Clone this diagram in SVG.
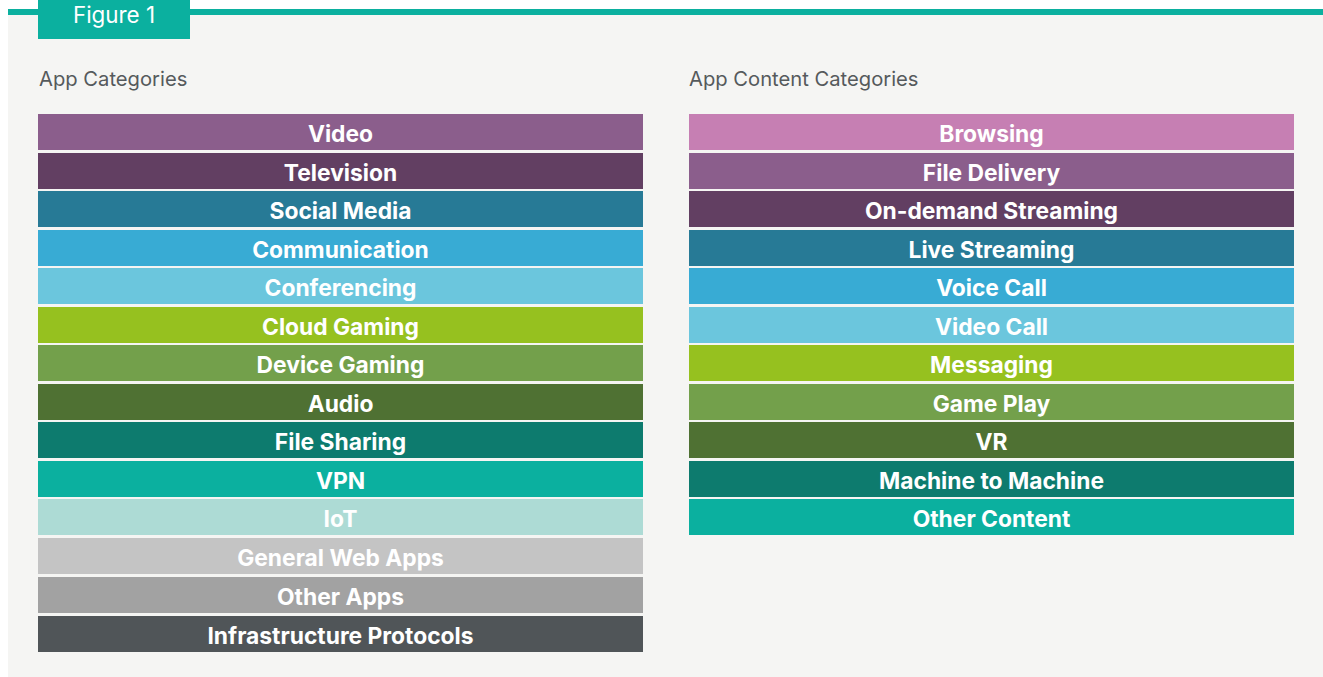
<svg xmlns="http://www.w3.org/2000/svg" width="1323" height="677" viewBox="0 0 1323 677">
<style>
.lbl{font-family:Inter,"Liberation Sans",sans-serif;font-weight:700;font-size:22.8px;fill:#ffffff;text-anchor:middle}
.hd{font-family:Inter,"Liberation Sans",sans-serif;font-size:20.2px;fill:#555a5c}
</style>
<rect x="0" y="0" width="1323" height="677" fill="#ffffff"/>
<rect x="8" y="15" width="1315" height="662" fill="#f5f5f3"/>
<rect x="8" y="9" width="1315" height="6" fill="#0bb09f"/>
<g id="tab">
<rect x="38" y="0" width="152" height="39" fill="#0bb09f"/>
<text x="114" y="23" font-family="Inter,'Liberation Sans',sans-serif" font-size="22.4" fill="#ffffff" text-anchor="middle">Figure 1</text>
</g>
<text class="hd" x="39" y="86">App Categories</text>
<text class="hd" x="689" y="86">App Content Categories</text>
<g id="left">
<g id="n-video"><rect x="38" y="114" width="605" height="36" fill="#8b5e8c"/><text class="lbl" x="340.5" y="141.5">Video</text></g>
<g id="n-television"><rect x="38" y="153" width="605" height="36" fill="#623f62"/><text class="lbl" x="340.5" y="180.5">Television</text></g>
<g id="n-social"><rect x="38" y="191" width="605" height="36" fill="#277a96"/><text class="lbl" x="340.5" y="218.5">Social Media</text></g>
<g id="n-communication"><rect x="38" y="230" width="605" height="36" fill="#38abd4"/><text class="lbl" x="340.5" y="257.5">Communication</text></g>
<g id="n-conferencing"><rect x="38" y="268" width="605" height="36" fill="#6bc6dd"/><text class="lbl" x="340.5" y="295.5">Conferencing</text></g>
<g id="n-cloudgaming"><rect x="38" y="307" width="605" height="36" fill="#96c11f"/><text class="lbl" x="340.5" y="334.5">Cloud Gaming</text></g>
<g id="n-devicegaming"><rect x="38" y="345" width="605" height="36" fill="#73a04b"/><text class="lbl" x="340.5" y="372.5">Device Gaming</text></g>
<g id="n-audio"><rect x="38" y="384" width="605" height="36" fill="#4f7133"/><text class="lbl" x="340.5" y="411.5">Audio</text></g>
<g id="n-filesharing"><rect x="38" y="422" width="605" height="36" fill="#0d7b6e"/><text class="lbl" x="340.5" y="449.5">File Sharing</text></g>
<g id="n-vpn"><rect x="38" y="461" width="605" height="36" fill="#0bb09f"/><text class="lbl" x="340.5" y="488.5">VPN</text></g>
<g id="n-iot"><rect x="38" y="499" width="605" height="36" fill="#addbd5"/><text class="lbl" x="340.5" y="526.5">IoT</text></g>
<g id="n-generalweb"><rect x="38" y="538" width="605" height="36" fill="#c4c4c4"/><text class="lbl" x="340.5" y="565.5">General Web Apps</text></g>
<g id="n-otherapps"><rect x="38" y="577" width="605" height="36" fill="#a2a2a2"/><text class="lbl" x="340.5" y="604.5">Other Apps</text></g>
<g id="n-infra"><rect x="38" y="616" width="605" height="36" fill="#505558"/><text class="lbl" x="340.5" y="643.5">Infrastructure Protocols</text></g>
</g>
<g id="right">
<g id="n-browsing"><rect x="689" y="114" width="605" height="36" fill="#c67fb3"/><text class="lbl" x="991.5" y="141.5">Browsing</text></g>
<g id="n-filedelivery"><rect x="689" y="153" width="605" height="36" fill="#8b5e8c"/><text class="lbl" x="991.5" y="180.5">File Delivery</text></g>
<g id="n-ondemand"><rect x="689" y="191" width="605" height="36" fill="#623f62"/><text class="lbl" x="991.5" y="218.5">On-demand Streaming</text></g>
<g id="n-live"><rect x="689" y="230" width="605" height="36" fill="#277a96"/><text class="lbl" x="991.5" y="257.5">Live Streaming</text></g>
<g id="n-voice"><rect x="689" y="268" width="605" height="36" fill="#38abd4"/><text class="lbl" x="991.5" y="295.5">Voice Call</text></g>
<g id="n-videocall"><rect x="689" y="307" width="605" height="36" fill="#6bc6dd"/><text class="lbl" x="991.5" y="334.5">Video Call</text></g>
<g id="n-messaging"><rect x="689" y="345" width="605" height="36" fill="#96c11f"/><text class="lbl" x="991.5" y="372.5">Messaging</text></g>
<g id="n-gameplay"><rect x="689" y="384" width="605" height="36" fill="#73a04b"/><text class="lbl" x="991.5" y="411.5">Game Play</text></g>
<g id="n-vr"><rect x="689" y="422" width="605" height="36" fill="#4f7133"/><text class="lbl" x="991.5" y="449.5">VR</text></g>
<g id="n-m2m"><rect x="689" y="461" width="605" height="36" fill="#0d7b6e"/><text class="lbl" x="991.5" y="488.5">Machine to Machine</text></g>
<g id="n-othercontent"><rect x="689" y="499" width="605" height="36" fill="#0bb09f"/><text class="lbl" x="991.5" y="526.5">Other Content</text></g>
</g>
<g id="connectors"/>
</svg>
